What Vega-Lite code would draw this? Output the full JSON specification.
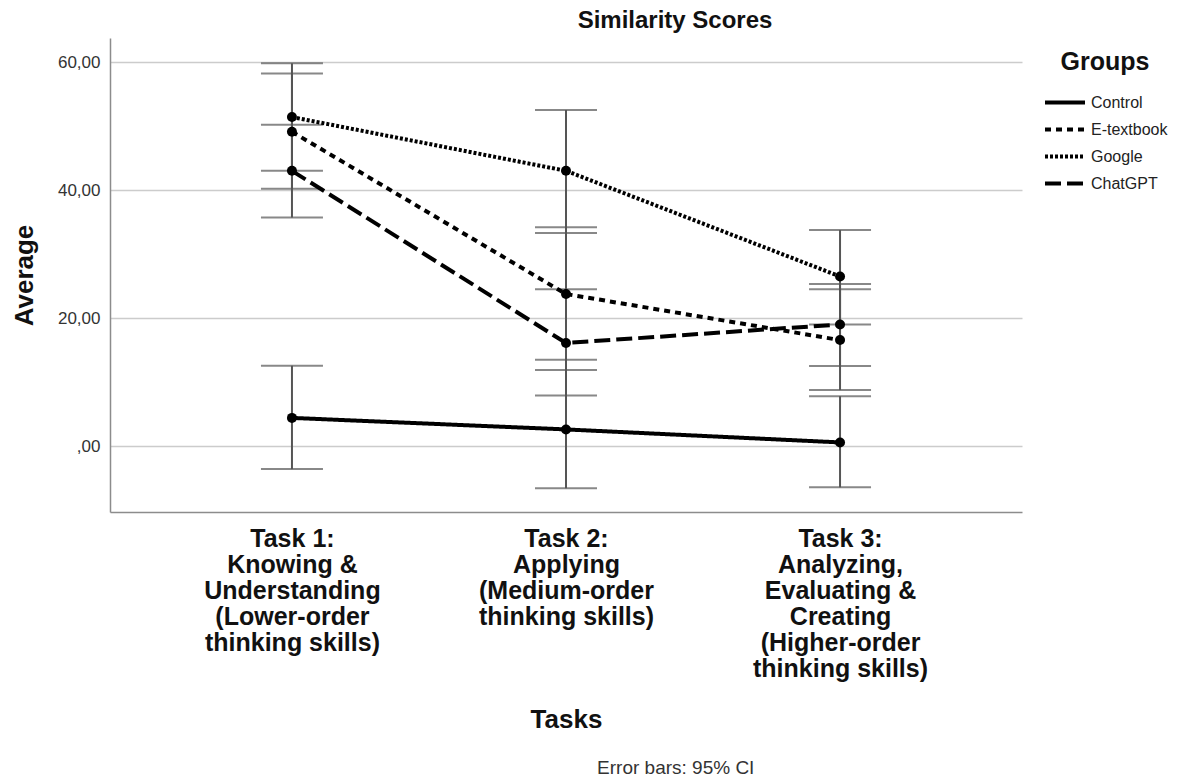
{
  "$schema": "https://vega.github.io/schema/vega-lite/v6.json",
  "padding": {"left": 11, "top": 9, "right": 5, "bottom": 0},
  "background": "white",
  "config": {"font": "Liberation Sans", "view": {"stroke": null}},
  "title": {"text": "Error bars: 95% CI", "orient": "bottom", "fontSize": 19, "fontWeight": "normal", "color": "#333333", "anchor": "middle", "offset": 27, "dx": 80},
  "vconcat": [
    {
      "width": 912,
      "height": 474,
      "title": {"text": "Similarity Scores", "fontSize": 24, "fontWeight": "bold", "color": "#111111", "anchor": "middle", "dx": 109, "offset": 5},
      "data": {
        "values": [
          {"task": "Task 1:|Knowing &|Understanding|(Lower-order|thinking skills)", "group": "Control", "mean": 4.4, "lo": -3.6, "hi": 12.55},
          {"task": "Task 1:|Knowing &|Understanding|(Lower-order|thinking skills)", "group": "E-textbook", "mean": 49.1, "lo": 40.2, "hi": 58.2},
          {"task": "Task 1:|Knowing &|Understanding|(Lower-order|thinking skills)", "group": "Google", "mean": 51.4, "lo": 43.0, "hi": 59.8},
          {"task": "Task 1:|Knowing &|Understanding|(Lower-order|thinking skills)", "group": "ChatGPT", "mean": 43.0, "lo": 35.7, "hi": 50.2},
          {"task": "Task 2:|Applying|(Medium-order|thinking skills)", "group": "Control", "mean": 2.6, "lo": -6.6, "hi": 11.9},
          {"task": "Task 2:|Applying|(Medium-order|thinking skills)", "group": "E-textbook", "mean": 23.75, "lo": 13.5, "hi": 34.2},
          {"task": "Task 2:|Applying|(Medium-order|thinking skills)", "group": "Google", "mean": 43.0, "lo": 33.3, "hi": 52.5},
          {"task": "Task 2:|Applying|(Medium-order|thinking skills)", "group": "ChatGPT", "mean": 16.1, "lo": 7.9, "hi": 24.5},
          {"task": "Task 3:|Analyzing,|Evaluating &|Creating|(Higher-order|thinking skills)", "group": "Control", "mean": 0.57, "lo": -6.45, "hi": 7.8},
          {"task": "Task 3:|Analyzing,|Evaluating &|Creating|(Higher-order|thinking skills)", "group": "E-textbook", "mean": 16.56, "lo": 8.75, "hi": 24.5},
          {"task": "Task 3:|Analyzing,|Evaluating &|Creating|(Higher-order|thinking skills)", "group": "Google", "mean": 26.5, "lo": 19.0, "hi": 33.75},
          {"task": "Task 3:|Analyzing,|Evaluating &|Creating|(Higher-order|thinking skills)", "group": "ChatGPT", "mean": 19.0, "lo": 12.5, "hi": 25.3}
        ]
      },
      "encoding": {
        "x": {
          "field": "task", "type": "nominal", "sort": null,
          "scale": {"type": "point", "padding": 0.664},
          "axis": {
            "labelAngle": 0, "labelExpr": "split(datum.label, '|')",
            "labelFontSize": 25, "labelFontWeight": "bold", "labelColor": "#111111",
            "labelLineHeight": 26, "labelPadding": 14, "ticks": false, "grid": false,
            "domainColor": "#8c8c8c", "domainWidth": 1.5,
            "title": "Tasks", "titleFontSize": 26, "titleFontWeight": "bold", "titleColor": "#111111", "titlePadding": 25
          }
        }
      },
      "layer": [
        {
          "mark": {"type": "rule", "color": "#555555", "strokeWidth": 2},
          "encoding": {
            "y": {"field": "lo", "type": "quantitative"},
            "y2": {"field": "hi"}
          }
        },
        {
          "mark": {"type": "tick", "color": "#555555", "thickness": 2, "size": 62},
          "encoding": {"y": {"field": "lo", "type": "quantitative"}}
        },
        {
          "mark": {"type": "tick", "color": "#555555", "thickness": 2, "size": 62},
          "encoding": {"y": {"field": "hi", "type": "quantitative"}}
        },
        {
          "mark": {"type": "line", "color": "black", "strokeWidth": 4},
          "encoding": {
            "y": {
              "field": "mean", "type": "quantitative",
              "scale": {"domain": [-10.3, 63.75], "nice": false, "zero": false},
              "axis": {
                "values": [0, 20, 40, 60],
                "labelExpr": "datum.value == 0 ? ',00' : replace(format(datum.value, '.2f'), '.', ',')",
                "labelFontSize": 17, "labelColor": "#333333", "labelPadding": 10,
                "ticks": false, "grid": true, "gridColor": "#cccccc", "gridWidth": 1.5,
                "domainColor": "#8c8c8c", "domainWidth": 1.5,
                "title": "Average", "titleFontSize": 26, "titleFontWeight": "bold", "titleColor": "#111111", "titlePadding": 20
              }
            },
            "strokeDash": {
              "field": "group", "type": "nominal",
              "scale": {"domain": ["Control", "E-textbook", "Google", "ChatGPT"], "range": [[1, 0], [6, 5], [3, 2], [16, 6]]},
              "legend": {
                "title": "Groups", "titleFontSize": 25, "titleFontWeight": "bold", "titleColor": "#111111",
                "titleAnchor": "middle", "titlePadding": 15,
                "labelFontSize": 16, "labelColor": "#222222", "labelOffset": 4,
                "symbolType": "stroke", "symbolSize": 1600, "symbolStrokeWidth": 4, "symbolStrokeColor": "black",
                "clipHeight": 25, "rowPadding": 2, "padding": 12, "offset": 9
              }
            }
          }
        },
        {
          "mark": {"type": "point", "filled": true, "color": "black", "size": 100, "opacity": 1},
          "encoding": {"y": {"field": "mean", "type": "quantitative"}}
        }
      ]
    }
  ]
}
